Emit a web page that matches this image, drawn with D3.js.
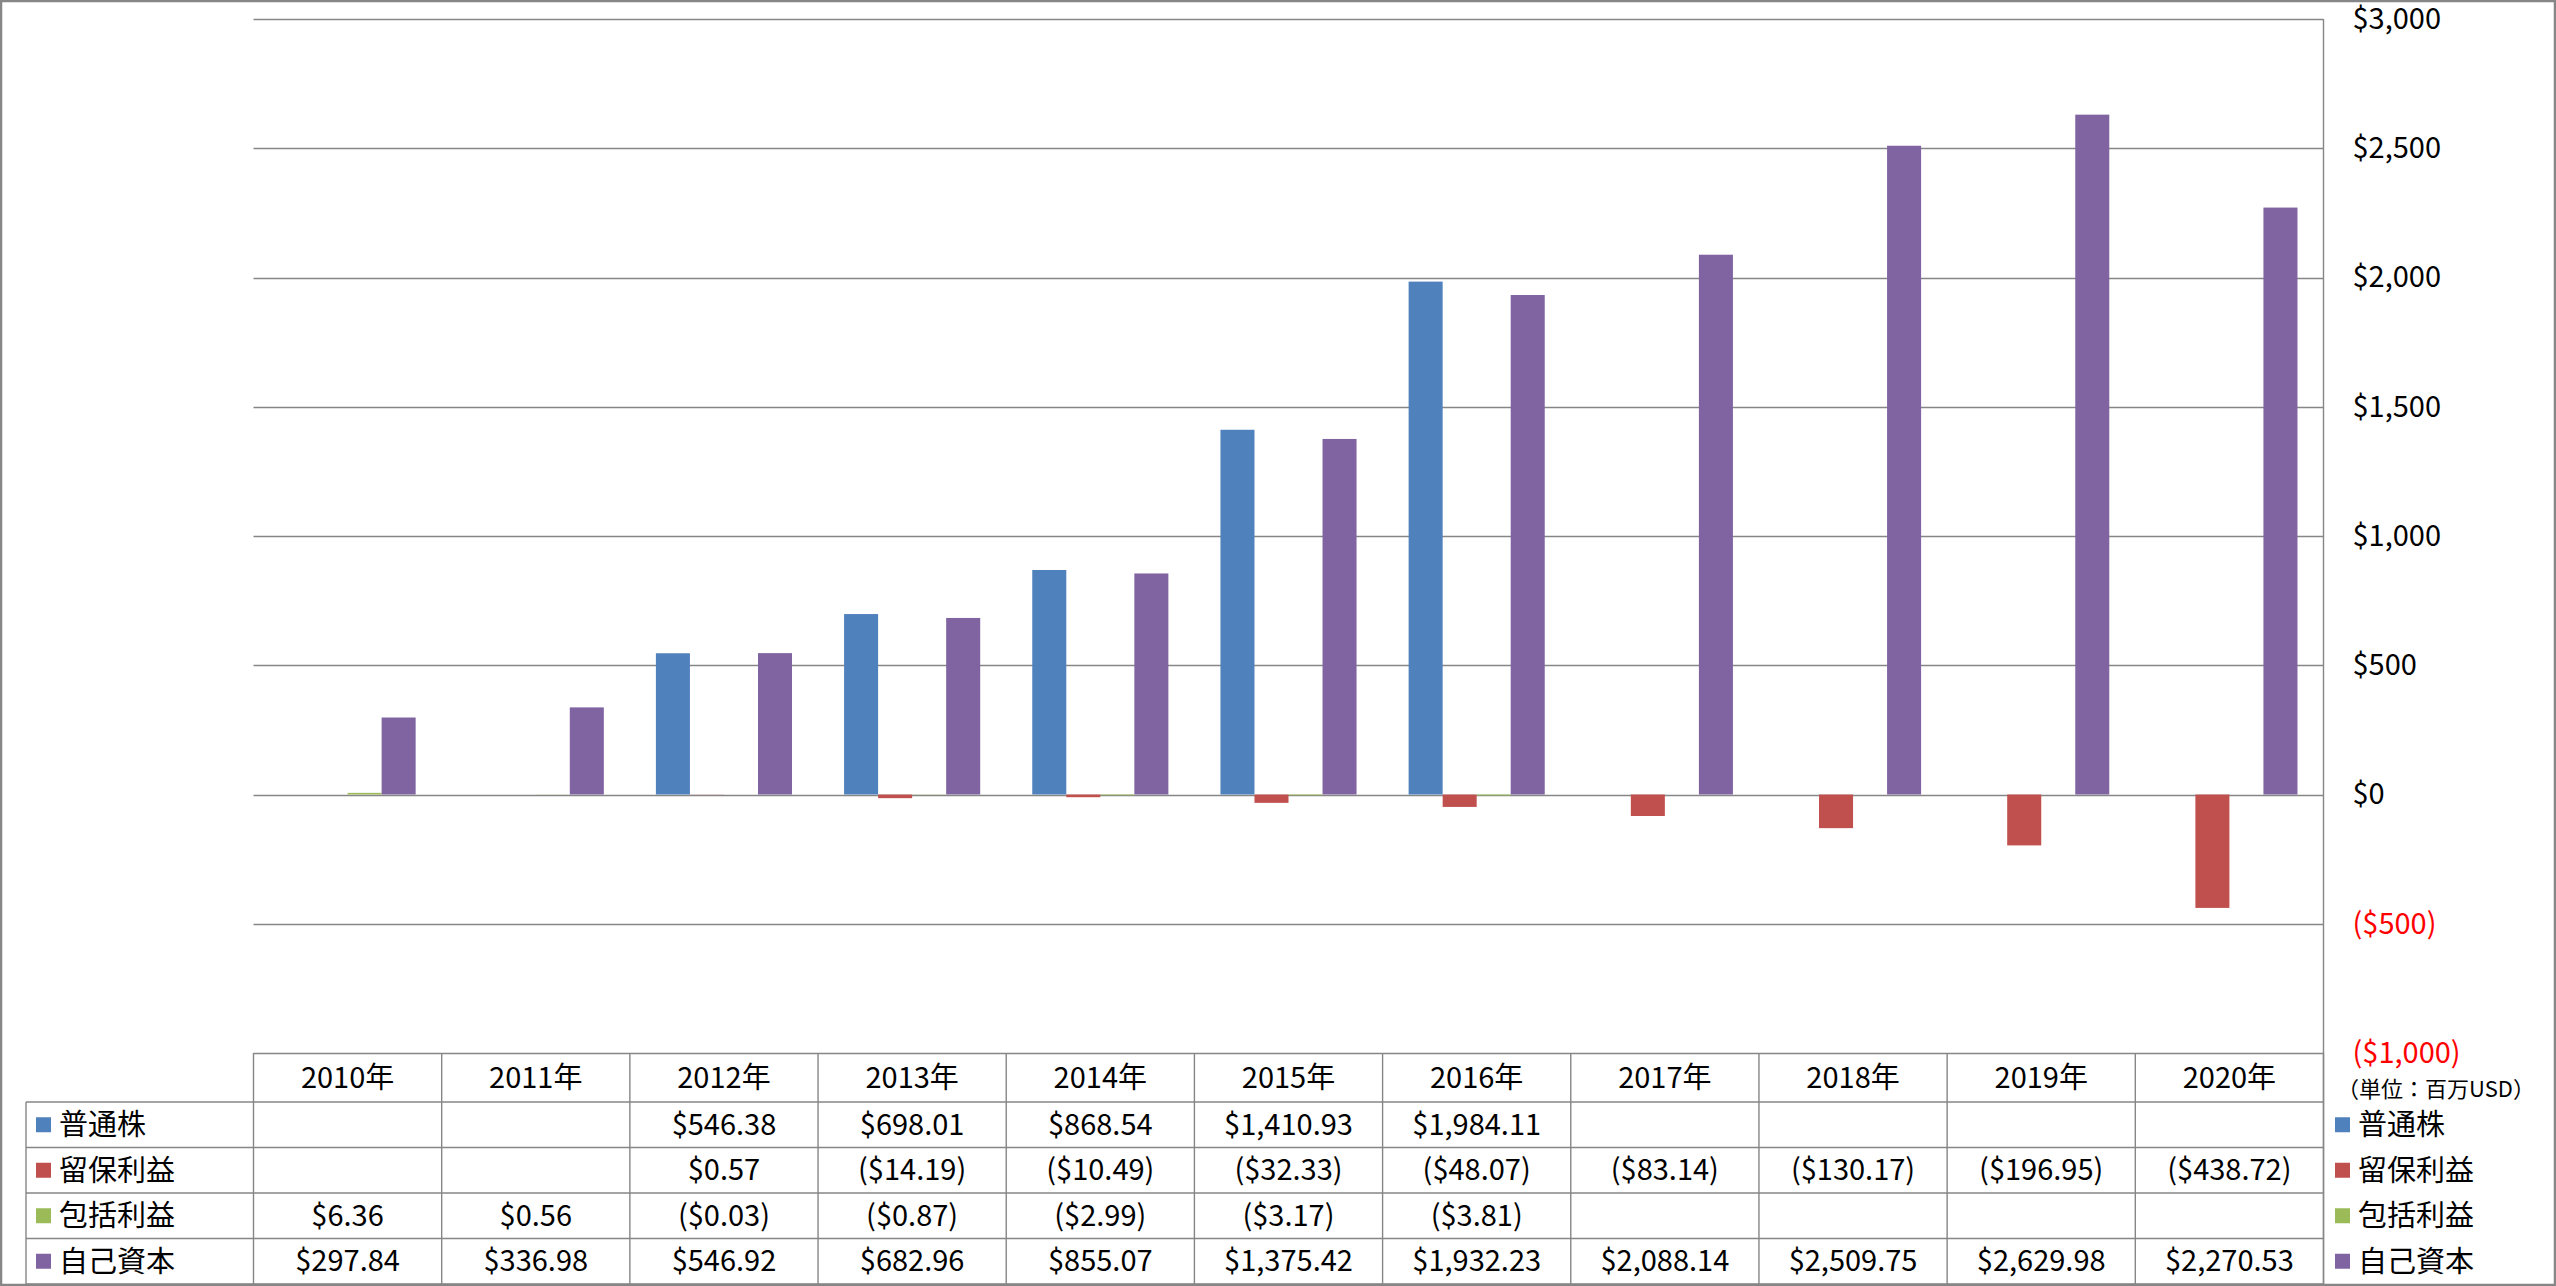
<!DOCTYPE html>
<html>
<head>
<meta charset="utf-8">
<script src="https://cdn.jsdelivr.net/npm/d3@7"></script>
<style>
  html, body { margin: 0; padding: 0; background: #ffffff; }
  svg { display: block; }
  text { font-family: "Noto Sans CJK JP", "Noto Sans", sans-serif; }
</style>
</head>
<body>
<svg id="chart" width="2556" height="1286"></svg>
<script>
// ---------- data ----------
const years = ["2010年","2011年","2012年","2013年","2014年","2015年","2016年","2017年","2018年","2019年","2020年"];
const seriesNames = ["普通株","留保利益","包括利益","自己資本"];
const seriesColors = ["#4F81BD","#C0504D","#9BBB59","#8064A2"];
const commonStock = [null,null,546.38,698.01,868.54,1410.93,1984.11,null,null,null,null];
const retainedEarnings = [null,null,0.57,-14.19,-10.49,-32.33,-48.07,-83.14,-130.17,-196.95,-438.72];
const comprehensiveIncome = [6.36,0.56,-0.03,-0.87,-2.99,-3.17,-3.81,null,null,null,null];
const equity = [297.84,336.98,546.92,682.96,855.07,1375.42,1932.23,2088.14,2509.75,2629.98,2270.53];
const yTicks = [-1000,-500,0,500,1000,1500,2000,2500,3000];
const unitLabel = "（単位：百万USD）";

const seriesValues = [commonStock, retainedEarnings, comprehensiveIncome, equity];

// ---------- layout ----------
const W = 2556, H = 1286;
const plotLeft = 253.5, plotRight = 2323.5, plotTop = 19, plotBottom = 1053;
const tableBottom = 1284, headerBottom = 1102;
const legendLeft = 26;
const gridColor = "#868686";
const fontSize = 29;

const svg = d3.select("#chart");

// outer border
svg.append("rect")
  .attr("x", 1).attr("y", 1).attr("width", W - 2).attr("height", H - 2)
  .attr("fill", "#ffffff").attr("stroke", gridColor).attr("stroke-width", 2.5);

const x = d3.scaleBand().domain(years).range([plotLeft, plotRight]).paddingInner(0).paddingOuter(0);
const xs = d3.scaleBand().domain(seriesNames).range([0, x.bandwidth()]).paddingInner(0).paddingOuter(0.765);
const y = d3.scaleLinear().domain([-1000, 3000]).range([plotBottom, plotTop]);

// gridlines
svg.append("g").selectAll("line").data(yTicks).join("line")
  .attr("x1", plotLeft).attr("x2", plotRight)
  .attr("y1", d => Math.round(y(d)) + 0.5).attr("y2", d => Math.round(y(d)) + 0.5)
  .attr("stroke", gridColor).attr("stroke-width", 1.4);

// right axis (labels)
const fmtMoney = d3.format(",");
const axis = d3.axisRight(y).tickValues(yTicks).tickSize(0).tickPadding(29)
  .tickFormat(d => d < 0 ? "($" + fmtMoney(-d) + ")" : "$" + fmtMoney(d));
const ax = svg.append("g").attr("transform", `translate(${plotRight},0)`).call(axis);
ax.select(".domain").remove();
ax.selectAll("text")
  .attr("font-size", fontSize)
  .attr("font-family", "\"Noto Sans CJK JP\", sans-serif")
  .attr("dy", "0.32em")
  .attr("fill", d => d < 0 ? "#FF0000" : "#000000");

// right vertical line
svg.append("line")
  .attr("x1", plotRight).attr("x2", plotRight).attr("y1", plotTop).attr("y2", tableBottom)
  .attr("stroke", gridColor).attr("stroke-width", 1.4);

// bars
const barData = [];
seriesNames.forEach((s, si) => {
  seriesValues[si].forEach((v, yi) => {
    if (v !== null) barData.push({ series: s, year: years[yi], value: v, color: seriesColors[si] });
  });
});
svg.append("g").selectAll("rect").data(barData).join("rect")
  .attr("x", d => x(d.year) + xs(d.series))
  .attr("width", xs.bandwidth())
  .attr("y", d => Math.min(y(d.value), y(0)))
  .attr("height", d => Math.abs(y(d.value) - y(0)))
  .attr("fill", d => d.color);

// ---------- data table ----------
const rowY = d3.scaleBand().domain(seriesNames).range([headerBottom, tableBottom]);
const tbl = svg.append("g");

// horizontal lines of rows
const hLines = [headerBottom].concat(seriesNames.map(s => rowY(s) + rowY.bandwidth()));
tbl.selectAll("line.h").data(hLines).join("line").attr("class", "h")
  .attr("x1", legendLeft).attr("x2", plotRight)
  .attr("y1", d => d).attr("y2", d => d)
  .attr("stroke", gridColor).attr("stroke-width", 1.4);
// vertical lines
const vLines = years.map(yr => x(yr)).concat([plotRight]);
tbl.selectAll("line.v").data(vLines).join("line").attr("class", "v")
  .attr("x1", d => d).attr("x2", d => d)
  .attr("y1", plotBottom).attr("y2", tableBottom)
  .attr("stroke", gridColor).attr("stroke-width", 1.4);
tbl.append("line")
  .attr("x1", legendLeft).attr("x2", legendLeft).attr("y1", headerBottom).attr("y2", tableBottom)
  .attr("stroke", gridColor).attr("stroke-width", 1.4);

// header
tbl.selectAll("text.yr").data(years).join("text").attr("class", "yr")
  .attr("x", d => x(d) + x.bandwidth() / 2)
  .attr("y", (plotBottom + headerBottom) / 2)
  .attr("dy", "0.35em")
  .attr("text-anchor", "middle")
  .attr("font-size", fontSize)
  .text(d => d);

// cells
const fmtVal = d3.format(",.2f");
const cellText = v => v === null ? "" : (v < 0 ? "($" + fmtVal(-v) + ")" : "$" + fmtVal(v));
const cells = [];
seriesNames.forEach((s, si) => {
  seriesValues[si].forEach((v, yi) => cells.push({ series: s, year: years[yi], value: v }));
});
tbl.selectAll("text.cell").data(cells.filter(c => c.value !== null)).join("text").attr("class", "cell")
  .attr("x", d => x(d.year) + x.bandwidth() / 2)
  .attr("y", d => rowY(d.series) + rowY.bandwidth() / 2)
  .attr("dy", "0.35em")
  .attr("text-anchor", "middle")
  .attr("font-size", fontSize)
  .text(d => cellText(d.value));

// legend keys in table (left) and on the right
function legend(xSquare, xText) {
  const g = svg.append("g");
  g.selectAll("rect").data(seriesNames).join("rect")
    .attr("x", xSquare)
    .attr("y", d => rowY(d) + rowY.bandwidth() / 2 - 7.5)
    .attr("width", 15).attr("height", 15)
    .attr("fill", (d, i) => seriesColors[i]);
  g.selectAll("text").data(seriesNames).join("text")
    .attr("x", xText)
    .attr("y", d => rowY(d) + rowY.bandwidth() / 2)
    .attr("dy", "0.36em")
    .attr("font-size", fontSize)
    .text(d => d);
}
legend(36, 59);
legend(2335, 2358);

// unit label
svg.append("text")
  .attr("x", 2436).attr("y", 1089)
  .attr("dy", "0.35em")
  .attr("text-anchor", "middle")
  .attr("font-size", 22)
  .text(unitLabel);
</script>
</body>
</html>
